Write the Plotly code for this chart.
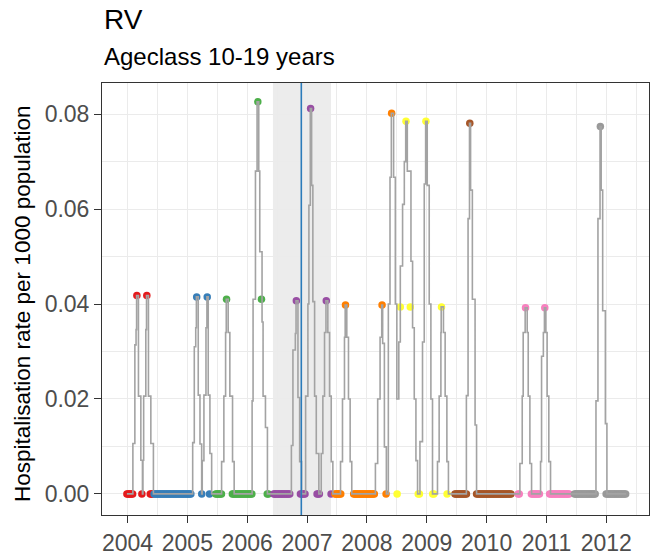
import numpy as np
import plotly.graph_objects as go

# ---------------- data (decimal years, rate per 1000) ----------------
SEASONS = ["2003/04", "2004/05", "2005/06", "2006/07", "2007/08",
           "2008/09", "2009/10", "2010/11", "2011/12"]
SEASON_COLORS = ["#E41A1C", "#377EB8", "#4DAF4A", "#984EA3", "#FF7F00",
                 "#FFFF33", "#A65628", "#F781BF", "#999999"]

# weeks with zero hospitalisations (start, end of each run)
ZERO_RANGES = [
    [(2003.99, 2004.10), (2004.24, 2004.25), (2004.38, 2004.42)],
    [(2004.445, 2005.06), (2005.24, 2005.245), (2005.37, 2005.375)],
    [(2005.474, 2005.585), (2005.752, 2006.085), (2006.335, 2006.363)],
    [(2006.443, 2006.726), (2006.889, 2006.973), (2007.167, 2007.222), (2007.401, 2007.401)],
    [(2007.467, 2007.575), (2007.779, 2008.138), (2008.320, 2008.320)],
    [(2008.505, 2008.505), (2008.858, 2008.890), (2009.099, 2009.124), (2009.340, 2009.350)],
    [(2009.471, 2009.665), (2009.832, 2010.415)],
    [(2010.526, 2010.553), (2010.748, 2010.886), (2011.053, 2011.386)],
    [(2011.469, 2011.830), (2011.997, 2012.330)],
]
# weeks with non-zero hospitalisation rate
PEAK_X = [
    [2004.157, 2004.323],
    [2005.156, 2005.332],
    [2005.655, 2006.177, 2006.238],
    [2006.821, 2007.059, 2007.321],
    [2007.642, 2008.253, 2008.413],
    [2008.558, 2008.653, 2008.725, 2008.986, 2009.246],
    [2009.719],
    [2010.650, 2010.972],
    [2011.900],
]
PEAK_Y = [
    [0.0418, 0.0418],
    [0.0415, 0.0415],
    [0.0410, 0.0826, 0.0410],
    [0.0407, 0.0812, 0.0407],
    [0.0398, 0.0398, 0.0802],
    [0.0394, 0.0785, 0.0394, 0.0785, 0.0394],
    [0.0781],
    [0.0392, 0.0392],
    [0.0774],
]

# step line (smoothed rate)
LINE_X = [
    2003.990,
    2004.090, 2004.123, 2004.143, 2004.152, 2004.183, 2004.223, 2004.250, 2004.258,
    2004.270, 2004.306, 2004.318, 2004.350, 2004.390, 2004.433,
    2005.089, 2005.116, 2005.140, 2005.151, 2005.182, 2005.211, 2005.239, 2005.249,
    2005.277, 2005.311, 2005.327, 2005.349, 2005.377, 2005.406,
    2005.572, 2005.610, 2005.639, 2005.650, 2005.682, 2005.710, 2005.755, 2005.782,
    2006.082, 2006.098, 2006.138, 2006.165, 2006.193, 2006.210, 2006.248, 2006.265,
    2006.305, 2006.338,
    2006.738, 2006.764, 2006.804, 2006.816, 2006.848, 2006.876, 2006.909,
    2006.976, 2007.014, 2007.031, 2007.054, 2007.076, 2007.097, 2007.126, 2007.154,
    2007.197, 2007.237, 2007.264, 2007.292, 2007.316, 2007.347, 2007.376, 2007.404,
    2007.431,
    2007.559, 2007.592, 2007.625, 2007.637, 2007.664, 2007.692, 2007.720, 2007.747,
    2008.142, 2008.180, 2008.220, 2008.248, 2008.263, 2008.292, 2008.325,
    2008.358, 2008.386, 2008.408, 2008.446, 2008.475, 2008.500,
    2008.533, 2008.558, 2008.596, 2008.625, 2008.648, 2008.675, 2008.736, 2008.763,
    2008.791, 2008.819, 2008.846,
    2008.886, 2008.929, 2008.958, 2008.981, 2009.008, 2009.041, 2009.069, 2009.096,
    2009.179, 2009.207, 2009.236, 2009.241, 2009.279, 2009.307, 2009.336, 2009.362,
    2009.662, 2009.690, 2009.714, 2009.732, 2009.762, 2009.807, 2009.832,
    2010.556, 2010.595, 2010.611, 2010.644, 2010.678, 2010.695, 2010.723, 2010.751,
    2010.901, 2010.918, 2010.948, 2010.966, 2010.989, 2011.011, 2011.039, 2011.068,
    2011.827, 2011.860, 2011.895, 2011.914, 2011.939, 2011.984, 2012.010,
    2012.330,
]
LINE_Y = [
    0.0,
    0.0106, 0.0314, 0.0346, 0.0418, 0.0206, 0.0071, 0.0, 0.0071,
    0.0206, 0.0346, 0.0418, 0.0206, 0.0106, 0.0,
    0.0108, 0.0310, 0.0350, 0.0415, 0.0208, 0.0105, 0.0, 0.0070,
    0.0208, 0.0350, 0.0415, 0.0208, 0.0085, 0.0,
    0.0068, 0.0206, 0.0340, 0.0410, 0.0340, 0.0206, 0.0068, 0.0,
    0.0196, 0.0410, 0.0680, 0.0826, 0.0680, 0.0510, 0.0362, 0.0206,
    0.0140, 0.0,
    0.0102, 0.0303, 0.0338, 0.0407, 0.0203, 0.0068, 0.0,
    0.0206, 0.0400, 0.0608, 0.0812, 0.0650, 0.0405, 0.0206, 0.0085,
    0.0, 0.0085, 0.0206, 0.0340, 0.0407, 0.0340, 0.0206, 0.0068,
    0.0,
    0.0068, 0.0200, 0.0330, 0.0398, 0.0330, 0.0200, 0.0068, 0.0,
    0.0064, 0.0200, 0.0330, 0.0398, 0.0317, 0.0099, 0.0,
    0.0400, 0.0667, 0.0802, 0.0667, 0.0400, 0.0200,
    0.0320, 0.0480, 0.0610, 0.0700, 0.0785, 0.0680, 0.0490, 0.0350,
    0.0200, 0.0070, 0.0,
    0.0110, 0.0320, 0.0653, 0.0785, 0.0650, 0.0400, 0.0200, 0.0,
    0.0068, 0.0206, 0.0340, 0.0394, 0.0340, 0.0206, 0.0068, 0.0,
    0.0207, 0.0580, 0.0781, 0.0640, 0.0410, 0.0145, 0.0,
    0.0064, 0.0206, 0.0340, 0.0392, 0.0340, 0.0206, 0.0064, 0.0,
    0.0068, 0.0290, 0.0340, 0.0392, 0.0340, 0.0206, 0.0068, 0.0,
    0.0196, 0.0580, 0.0774, 0.0640, 0.0386, 0.0148, 0.0,
    0.0,
]

EVENT_DATE = 2006.904
WINDOW_START, WINDOW_END = 2006.43, 2007.40
YEAR_TICKS = [2004, 2005, 2006, 2007, 2008, 2009, 2010, 2011, 2012]
Y_TICKS = [0.0, 0.02, 0.04, 0.06, 0.08]
WEEK = 7 / 365.25

TITLE = "RV"
SUBTITLE = "Ageclass 10-19 years"
Y_TITLE = "Hospitalisation rate per 1000 population"

# ---------------- figure ----------------
FONT = "Liberation Sans, Arial, sans-serif"
fig = go.Figure()

for s, name in enumerate(SEASONS):
    xs, ys = [], []
    for a, b in ZERO_RANGES[s]:
        pts = np.arange(a, b + 1e-9, WEEK)
        xs.extend(pts.tolist())
        ys.extend([0.0] * len(pts))
    xs.extend(PEAK_X[s])
    ys.extend(PEAK_Y[s])
    fig.add_trace(go.Scatter(
        x=xs, y=ys, mode="markers", name=name, showlegend=False,
        marker=dict(color=SEASON_COLORS[s], size=7.5, line=dict(width=0)),
    ))

fig.add_trace(go.Scatter(
    x=LINE_X, y=LINE_Y, mode="lines", line_shape="hv", showlegend=False,
    line=dict(color="#A3A3A3", width=1.6),
))

fig.add_shape(type="rect", xref="x", yref="paper", x0=WINDOW_START, x1=WINDOW_END,
              y0=0, y1=1, fillcolor="rgba(170,170,170,0.22)", line_width=0,
              layer="between")
fig.add_shape(type="line", xref="x", yref="paper", x0=EVENT_DATE, x1=EVENT_DATE,
              y0=0, y1=1, line=dict(color="#2B7BBA", width=1.6), layer="above")

grid = "#EBEBEB"
fig.update_xaxes(
    range=[2003.574, 2012.713], tickvals=YEAR_TICKS,
    ticktext=[str(y) for y in YEAR_TICKS],
    showgrid=True, gridcolor=grid, gridwidth=1.3,
    minor=dict(dtick=0.5, tick0=2003.5, showgrid=True, gridcolor=grid, gridwidth=0.7),
    ticks="outside", ticklen=7, tickwidth=1, tickcolor="#333333",
    tickfont=dict(family=FONT, size=23, color="#4D4D4D"),
    showline=True, linecolor="#333333", linewidth=1, mirror=True, zeroline=False,
)
fig.update_yaxes(
    range=[-0.00445, 0.08657], tickvals=Y_TICKS,
    ticktext=["%.2f" % v for v in Y_TICKS],
    showgrid=True, gridcolor=grid, gridwidth=1.3,
    minor=dict(dtick=0.01, tick0=0.01, showgrid=True, gridcolor=grid, gridwidth=0.7),
    ticks="outside", ticklen=7, tickwidth=1, tickcolor="#333333",
    tickfont=dict(family=FONT, size=23, color="#4D4D4D"),
    showline=True, linecolor="#333333", linewidth=1, mirror=True, zeroline=False,
)

fig.add_annotation(text=TITLE, xref="paper", yref="paper", x=0, y=1.106,
                   xanchor="left", yanchor="bottom", showarrow=False,
                   font=dict(family=FONT, size=28, color="black"))
fig.add_annotation(text=SUBTITLE, xref="paper", yref="paper", x=0, y=1.026,
                   xanchor="left", yanchor="bottom", showarrow=False,
                   font=dict(family=FONT, size=24, color="black"))
fig.add_annotation(text=Y_TITLE, xref="paper", yref="paper", x=-0.145, y=0.49,
                   xanchor="center", yanchor="middle", textangle=-90, showarrow=False,
                   font=dict(family=FONT, size=22.5, color="black"))

fig.update_layout(
    width=655, height=560,
    margin=dict(l=102, r=4.5, t=83, b=39.3, pad=0),
    paper_bgcolor="white", plot_bgcolor="white",
    showlegend=False,
)

fig.write_html("out.html")
